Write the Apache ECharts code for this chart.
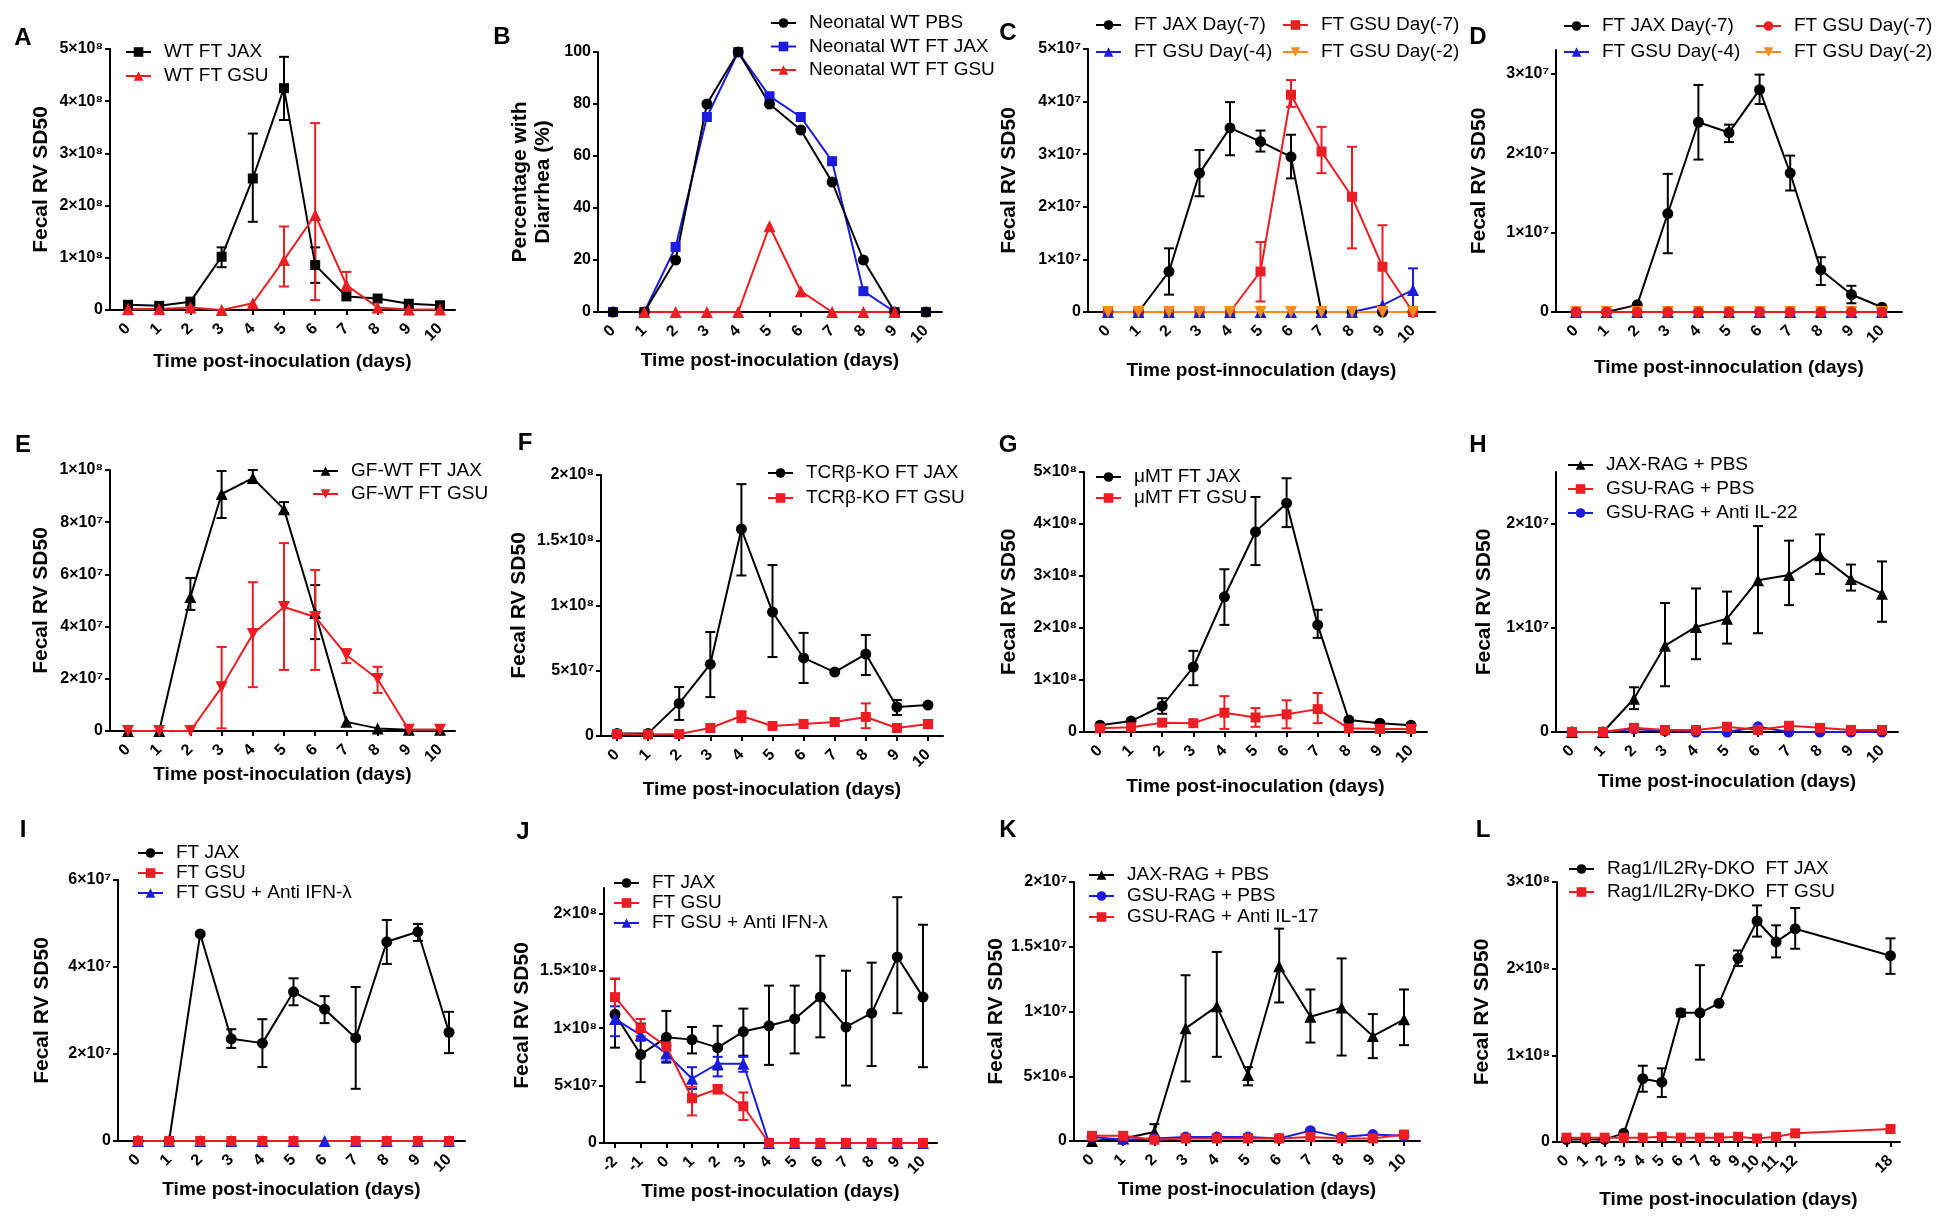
<!DOCTYPE html>
<html><head><meta charset="utf-8">
<script src="https://cdn.jsdelivr.net/npm/echarts@6/dist/echarts.min.js"></script>
<style>html,body{margin:0;padding:0;background:#fff}#c{width:1938px;height:1218px}</style>
</head><body><div id="c"></div><script>
// ---------- shared tick data ----------
const days = [0,1,2,3,4,5,6,7,8,9,10];
const daysJ = [-2,-1,0,1,2,3,4,5,6,7,8,9,10];
const daysL = [0,1,2,3,4,5,6,7,8,9,10,11,12,18];
const xLabelsL = ['0','1','2','3','4','5','6','7','8','9','10','11','12',' ','  ','   ','    ','18'];

// ---------- A ----------
const yTicksA = [0,1e8,2e8,3e8,4e8,5e8];
const yLabelsA = ['0','1×10⁸','2×10⁸','3×10⁸','4×10⁸','5×10⁸'];
const A_jax = [0.1e8,0.08e8,0.16e8,1.02e8,2.52e8,4.25e8,0.86e8,0.26e8,0.22e8,0.12e8,0.09e8];
const A_jaxErr = [null,null,null,[0.82e8,1.2e8],[1.69e8,3.38e8],[3.64e8,4.85e8],[0.52e8,1.2e8],null,null,null,null];
const A_gsu = [0.02e8,0.02e8,0.05e8,0,0.13e8,0.96e8,1.82e8,0.48e8,0.05e8,0.01e8,0.01e8];
const A_gsuErr = [null,null,null,null,null,[0.45e8,1.6e8],[0.19e8,3.58e8],[0.37e8,0.73e8],null,null,null];

// ---------- B ----------
const yTicksB = [0,20,40,60,80,100];
const yLabelsB = ['0','20','40','60','80','100'];
const B_pbs = [0,0,20,80,100,80,70,50,20,0,0];
const B_jax = [0,0,25,75,100,83,75,58,8,0,0];
const B_gsu = [null,0,0,0,0,33,8,0,0,0,null];

// ---------- C ----------
const yTicksC = [0,1e7,2e7,3e7,4e7,5e7];
const yLabelsC = ['0','1×10⁷','2×10⁷','3×10⁷','4×10⁷','5×10⁷'];
const C_jax7 = [0,0,0.77e7,2.64e7,3.5e7,3.24e7,2.95e7,0,0,0,0];
const C_jax7Err = [null,null,[0.33e7,1.21e7],[2.2e7,3.08e7],[2.98e7,3.99e7],[3.05e7,3.45e7],[2.54e7,3.37e7],null,null,null,null];
const C_gsu7 = [0,0,0,0,0,0.77e7,4.13e7,3.05e7,2.19e7,0.86e7,0];
const C_gsu7Err = [null,null,null,null,null,[0.2e7,1.33e7],[3.9e7,4.41e7],[2.64e7,3.52e7],[1.21e7,3.14e7],[0,1.65e7],null];
const C_gsu4 = [0,0,0,0,0,0,0,0,0,0.13e7,0.42e7];
const C_gsu4Err = [null,null,null,null,null,null,null,null,null,null,[0.05e7,0.83e7]];
const C_gsu2 = [0,0,0,0,0,0,0,0,0,0,0];

// ---------- D ----------
const yTicksD = [0,1e7,2e7,3e7];
const yLabelsD = ['0','1×10⁷','2×10⁷','3×10⁷'];
const D_jax7 = [0,0,0.09e7,1.24e7,2.39e7,2.26e7,2.8e7,1.75e7,0.53e7,0.22e7,0.06e7];
const D_jax7Err = [null,null,null,[0.74e7,1.74e7],[1.92e7,2.86e7],[2.14e7,2.36e7],[2.62e7,2.99e7],[1.53e7,1.97e7],[0.34e7,0.69e7],[0.11e7,0.33e7],null];
const D_gsu7 = [0,0,0,0,0,0,0,0,0,0,0];
const D_gsu4 = [0,0,0,0,0,0,0,0,0,0,0];
const D_gsu2 = [0,0,0,0,0,0,0,0,0,0,0];

// ---------- E ----------
const yTicksE = [0,2e7,4e7,6e7,8e7,1e8];
const yLabelsE = ['0','2×10⁷','4×10⁷','6×10⁷','8×10⁷','1×10⁸'];
const E_jax = [0,0,5.13e7,9.08e7,9.69e7,8.5e7,4.52e7,0.35e7,0.1e7,0.05e7,0.05e7];
const E_jaxErr = [null,null,[4.64e7,5.86e7],[8.16e7,9.96e7],[9.5e7,1.0e8],[8.35e7,8.77e7],[3.52e7,5.59e7],null,null,null,null];
const E_gsu = [0,0,0,1.68e7,3.72e7,4.75e7,4.37e7,2.91e7,1.99e7,0.05e7,0.05e7];
const E_gsuErr = [null,null,null,[0.1e7,3.22e7],[1.68e7,5.7e7],[2.34e7,7.2e7],[2.34e7,6.17e7],[2.6e7,3.14e7],[1.46e7,2.46e7],null,null];

// ---------- F ----------
const yTicksF = [0,5e7,1e8,1.5e8,2e8];
const yLabelsF = ['0','5×10⁷','1×10⁸','1.5×10⁸','2×10⁸'];
const F_jax = [0.2e7,0.2e7,2.5e7,5.5e7,15.86e7,9.5e7,5.98e7,4.9e7,6.28e7,2.22e7,2.37e7];
const F_jaxErr = [null,null,[1.23e7,3.75e7],[2.98e7,7.97e7],[12.3e7,19.3e7],[6.05e7,13.1e7],[4.06e7,7.9e7],null,[4.67e7,7.74e7],[1.61e7,2.76e7],null];
const F_gsu = [0.15e7,0.12e7,0.15e7,0.61e7,1.53e7,0.77e7,0.92e7,1.07e7,1.46e7,0.61e7,0.92e7];
const F_gsuErr = [null,null,null,null,[1.07e7,1.9e7],null,null,[0.8e7,1.35e7],[0.6e7,2.5e7],null,[0.6e7,1.2e7]];

// ---------- G ----------
const yTicksG = [0,1e8,2e8,3e8,4e8,5e8];
const yLabelsG = ['0','1×10⁸','2×10⁸','3×10⁸','4×10⁸','5×10⁸'];
const G_jax = [0.13e8,0.21e8,0.5e8,1.25e8,2.6e8,3.85e8,4.4e8,2.06e8,0.23e8,0.17e8,0.13e8];
const G_jaxErr = [null,null,[0.35e8,0.65e8],[0.9e8,1.56e8],[2.06e8,3.13e8],[3.21e8,4.52e8],[3.94e8,4.88e8],[1.81e8,2.35e8],null,null,null];
const G_gsu = [0.07e8,0.09e8,0.18e8,0.17e8,0.37e8,0.28e8,0.34e8,0.44e8,0.07e8,0.06e8,0.06e8];
const G_gsuErr = [null,null,null,null,[0.06e8,0.69e8],[0.1e8,0.46e8],[0.07e8,0.61e8],[0.17e8,0.75e8],null,null,null];

// ---------- H ----------
const yTicksH = [0,1e7,2e7];
const yLabelsH = ['0','1×10⁷','2×10⁷'];
const H_jax = [0,0,0.32e7,0.83e7,1.01e7,1.09e7,1.46e7,1.51e7,1.7e7,1.47e7,1.33e7];
const H_jaxErr = [null,null,[0.22e7,0.43e7],[0.44e7,1.24e7],[0.7e7,1.38e7],[0.85e7,1.35e7],[0.95e7,1.98e7],[1.22e7,1.84e7],[1.52e7,1.9e7],[1.36e7,1.61e7],[1.06e7,1.64e7]];
const H_gsuPbs = [0,0,0.04e7,0.02e7,0.02e7,0.05e7,0.02e7,0.06e7,0.04e7,0.02e7,0.02e7];
const H_gsuIL22 = [0,0,0.03e7,0.01e7,0,0,0.05e7,0,0,0,0];

// ---------- I ----------
const yTicksI = [0,2e7,4e7,6e7];
const yLabelsI = ['0','2×10⁷','4×10⁷','6×10⁷'];
const I_jax = [0,0,4.76e7,2.35e7,2.25e7,3.43e7,3.03e7,2.37e7,4.58e7,4.81e7,2.5e7];
const I_jaxErr = [null,null,null,[2.14e7,2.57e7],[1.7e7,2.8e7],[3.12e7,3.74e7],[2.71e7,3.33e7],[1.2e7,3.54e7],[4.07e7,5.08e7],[4.6e7,4.99e7],[2.02e7,2.97e7]];
const I_gsu = [0,0,0,0,0,0,null,0,0,0,0];
const I_ifn = [0,0,0,0,0,0,0,0,0,0,0];

// ---------- J ----------
const yTicksJ = [0,5e7,1e8,1.5e8,2e8];
const yLabelsJ = ['0','5×10⁷','1×10⁸','1.5×10⁸','2×10⁸'];
const J_jax = [1.12e8,0.77e8,0.92e8,0.9e8,0.83e8,0.97e8,1.02e8,1.08e8,1.27e8,1.01e8,1.13e8,1.62e8,1.27e8];
const J_jaxErr = [[0.83e8,1.43e8],[0.53e8,1.04e8],[0.7e8,1.15e8],[0.78e8,1.01e8],[0.64e8,1.02e8],[0.76e8,1.17e8],[0.68e8,1.37e8],[0.78e8,1.37e8],[0.92e8,1.63e8],[0.5e8,1.5e8],[0.67e8,1.57e8],[1.13e8,2.14e8],[0.66e8,1.9e8]];
const J_gsu = [1.27e8,1.0e8,0.84e8,0.39e8,0.47e8,0.32e8,0,0,0,0,0,0,0];
const J_gsuErr = [[1.1e8,1.43e8],[0.93e8,1.08e8],[0.75e8,0.92e8],[0.24e8,0.49e8],[0.43e8,0.5e8],[0.2e8,0.44e8],null,null,null,null,null,null,null];
const J_ifn = [1.08e8,0.94e8,0.78e8,0.56e8,0.69e8,0.69e8,0,0,0,0,0,0,0];
const J_ifnErr = [[0.93e8,1.19e8],[0.89e8,0.99e8],[0.71e8,0.85e8],[0.47e8,0.66e8],[0.58e8,0.75e8],[0.62e8,0.75e8],null,null,null,null,null,null,null];

// ---------- K ----------
const yTicksK = [0,5e6,1e7,1.5e7,2e7];
const yLabelsK = ['0','5×10⁶','1×10⁷','1.5×10⁷','2×10⁷'];
const K_jax = [0,0.02e7,0.07e7,0.87e7,1.04e7,0.51e7,1.35e7,0.96e7,1.03e7,0.81e7,0.94e7];
const K_jaxErr = [null,null,[0.02e7,0.13e7],[0.46e7,1.28e7],[0.65e7,1.46e7],[0.43e7,0.57e7],[1.07e7,1.64e7],[0.76e7,1.17e7],[0.66e7,1.41e7],[0.64e7,0.98e7],[0.74e7,1.17e7]];
const K_gsuPbs = [0.03e7,0.01e7,0.02e7,0.03e7,0.03e7,0.03e7,0.02e7,0.08e7,0.03e7,0.05e7,0.04e7];
const K_il17 = [0.04e7,0.04e7,0.01e7,0.02e7,0.02e7,0.02e7,0.02e7,0.03e7,0.02e7,0.02e7,0.05e7];

// ---------- L ----------
const yTicksL = [0,1e8,2e8,3e8];
const yLabelsL = ['0','1×10⁸','2×10⁸','3×10⁸'];
const L_jax = [0.03e8,0.03e8,0.03e8,0.1e8,0.73e8,0.69e8,1.49e8,1.49e8,1.6e8,2.12e8,2.55e8,2.31e8,2.46e8,2.15e8];
const L_jaxErr = [null,null,null,null,[0.58e8,0.88e8],[0.52e8,0.85e8],[1.45e8,1.53e8],[0.95e8,2.04e8],null,[2.03e8,2.21e8],[2.37e8,2.73e8],[2.13e8,2.5e8],[2.23e8,2.7e8],[1.94e8,2.35e8]];
const L_gsu = [0.05e8,0.05e8,0.05e8,0.05e8,0.05e8,0.06e8,0.05e8,0.05e8,0.05e8,0.06e8,0.04e8,0.06e8,0.1e8,0.15e8];

// ---------- styling ----------
const FONT = '"Liberation Sans", Arial, Helvetica, sans-serif';
const BLACK = '#000000', RED = '#ee1d24', BLUE = '#1c1ce0', ORANGE = '#ff8a1f';
const XT1 = 'Time post-inoculation (days)';
const XT2 = 'Time post-innoculation (days)';
const YT = 'Fecal RV SD50';

const panels = [
 {id:'A', letter:[23,38], L:110,R:455,T:49,B:310, x0p:128,x0v:0,x1p:440,x1v:10, xTicks:days, ymax:5e8, yTicks:yTicksA, yLabels:yLabelsA, xName:XT1, xGap:42, yName:YT, yGap:57,
  series:[{n:'WT FT JAX',x:days,y:A_jax,e:A_jaxErr,c:BLACK,s:'rect'},{n:'WT FT GSU',x:days,y:A_gsu,e:A_gsuErr,c:RED,s:'triangle'}],
  legends:[{left:125,top:42,gap:4,names:['WT FT JAX','WT FT GSU']}]},
 {id:'B', letter:[502,37], L:598,R:942,T:52,B:312, x0p:613,x0v:0,x1p:926,x1v:10, xTicks:days, ymax:100, yTicks:yTicksB, yLabels:yLabelsB, xName:XT1, xGap:39, yName:'Percentage with\nDiarrhea (%)', yGap:43, yLH:23,
  series:[{n:'Neonatal WT FT JAX',x:days,y:B_jax,c:BLUE,s:'rect'},{n:'Neonatal WT PBS',x:days,y:B_pbs,c:BLACK,s:'circle'},{n:'Neonatal WT FT GSU',x:days,y:B_gsu,c:RED,s:'triangle'}],
  legends:[{left:770,top:13,gap:3.5,names:['Neonatal WT PBS','Neonatal WT FT JAX','Neonatal WT FT GSU']}]},
 {id:'C', letter:[1008,33], L:1088,R:1435,T:49,B:312, x0p:1108,x0v:0,x1p:1413,x1v:10, xTicks:days, ymax:5e7, yTicks:yTicksC, yLabels:yLabelsC, xName:XT2, xGap:49, yName:YT, yGap:67,
  series:[{n:'FT JAX Day(-7)',x:days,y:C_jax7,e:C_jax7Err,c:BLACK,s:'circle'},{n:'FT GSU Day(-7)',x:days,y:C_gsu7,e:C_gsu7Err,c:RED,s:'rect'},{n:'FT GSU Day(-4)',x:days,y:C_gsu4,e:C_gsu4Err,c:BLUE,s:'triangle'},{n:'FT GSU Day(-2)',x:days,y:C_gsu2,c:ORANGE,s:'triangle',r:180}],
  legends:[{left:1095,top:15,gap:7,names:['FT JAX Day(-7)','FT GSU Day(-4)']},{left:1282,top:15,gap:7,names:['FT GSU Day(-7)','FT GSU Day(-2)']}]},
 {id:'D', letter:[1478,37], L:1556,R:1902,T:50,B:312, x0p:1576,x0v:0,x1p:1882,x1v:10, xTicks:days, ymax:3.3e7, yTicks:yTicksD, yLabels:yLabelsD, xName:XT2, xGap:46, yName:YT, yGap:65,
  series:[{n:'FT JAX Day(-7)',x:days,y:D_jax7,e:D_jax7Err,c:BLACK,s:'circle'},{n:'FT GSU Day(-4)',x:days,y:D_gsu4,c:BLUE,s:'triangle'},{n:'FT GSU Day(-2)',x:days,y:D_gsu2,c:ORANGE,s:'triangle',r:180},{n:'FT GSU Day(-7)',x:days,y:D_gsu7,c:RED,s:'circle'}],
  legends:[{left:1563,top:16,gap:6,names:['FT JAX Day(-7)','FT GSU Day(-4)']},{left:1755,top:16,gap:6,names:['FT GSU Day(-7)','FT GSU Day(-2)']}]},
 {id:'E', letter:[23,445], L:110,R:455,T:470,B:731, x0p:128,x0v:0,x1p:440,x1v:10, xTicks:days, ymax:1e8, yTicks:yTicksE, yLabels:yLabelsE, xName:XT1, xGap:34, yName:YT, yGap:57,
  series:[{n:'GF-WT FT JAX',x:days,y:E_jax,e:E_jaxErr,c:BLACK,s:'triangle'},{n:'GF-WT FT GSU',x:days,y:E_gsu,e:E_gsuErr,c:RED,s:'triangle',r:180}],
  legends:[{left:312,top:461,gap:3,names:['GF-WT FT JAX','GF-WT FT GSU']}]},
 {id:'F', letter:[525,443], L:601,R:943,T:475,B:736, x0p:617,x0v:0,x1p:928,x1v:10, xTicks:days, ymax:2e8, yTicks:yTicksF, yLabels:yLabelsF, xName:XT1, xGap:44, yName:YT, yGap:70,
  series:[{n:'TCRβ-KO FT JAX',x:days,y:F_jax,e:F_jaxErr,c:BLACK,s:'circle'},{n:'TCRβ-KO FT GSU',x:days,y:F_gsu,e:F_gsuErr,c:RED,s:'rect'}],
  legends:[{left:767,top:463,gap:5,names:['TCRβ-KO FT JAX','TCRβ-KO FT GSU']}]},
 {id:'G', letter:[1008,445], L:1084,R:1427,T:472,B:732, x0p:1100,x0v:0,x1p:1411,x1v:10, xTicks:days, ymax:5e8, yTicks:yTicksG, yLabels:yLabelsG, xName:XT1, xGap:45, yName:YT, yGap:63,
  series:[{n:'μMT FT JAX',x:days,y:G_jax,e:G_jaxErr,c:BLACK,s:'circle'},{n:'μMT FT GSU',x:days,y:G_gsu,e:G_gsuErr,c:RED,s:'rect'}],
  legends:[{left:1095,top:467,gap:1,names:['μMT FT JAX','μMT FT GSU']}]},
 {id:'H', letter:[1478,445], L:1556,R:1898,T:472,B:732, x0p:1572,x0v:0,x1p:1882,x1v:10, xTicks:days, ymax:2.5e7, yTicks:yTicksH, yLabels:yLabelsH, xName:XT1, xGap:40, yName:YT, yGap:60,
  series:[{n:'JAX-RAG + PBS',x:days,y:H_jax,e:H_jaxErr,c:BLACK,s:'triangle'},{n:'GSU-RAG + Anti IL-22',x:days,y:H_gsuIL22,c:BLUE,s:'circle'},{n:'GSU-RAG + PBS',x:days,y:H_gsuPbs,c:RED,s:'rect'}],
  legends:[{left:1567,top:455,gap:4,names:['JAX-RAG + PBS','GSU-RAG + PBS','GSU-RAG + Anti IL-22']}]},
 {id:'I', letter:[23,830], L:118,R:465,T:880,B:1141, x0p:138,x0v:0,x1p:449,x1v:10, xTicks:days, ymax:6e7, yTicks:yTicksI, yLabels:yLabelsI, xName:XT1, xGap:39, yName:YT, yGap:64,
  series:[{n:'FT JAX',x:days,y:I_jax,e:I_jaxErr,c:BLACK,s:'circle'},{n:'FT GSU + Anti IFN-λ',x:days,y:I_ifn,c:BLUE,s:'triangle'},{n:'FT GSU',x:days,y:I_gsu,c:RED,s:'rect'}],
  legends:[{left:137,top:843,gap:0,names:['FT JAX','FT GSU','FT GSU + Anti IFN-λ']}]},
 {id:'J', letter:[523,832], L:604,R:937,T:888,B:1143, x0p:615,x0v:-2,x1p:923,x1v:10, xTicks:daysJ, ymax:2.22e8, yTicks:yTicksJ, yLabels:yLabelsJ, xName:XT1, xGap:39, yName:YT, yGap:70,
  series:[{n:'FT JAX',x:daysJ,y:J_jax,e:J_jaxErr,c:BLACK,s:'circle'},{n:'FT GSU + Anti IFN-λ',x:daysJ,y:J_ifn,e:J_ifnErr,c:BLUE,s:'triangle'},{n:'FT GSU',x:daysJ,y:J_gsu,e:J_gsuErr,c:RED,s:'rect'}],
  legends:[{left:613,top:873,gap:0,names:['FT JAX','FT GSU','FT GSU + Anti IFN-λ']}]},
 {id:'K', letter:[1008,830], L:1074,R:1420,T:882,B:1141, x0p:1092,x0v:0,x1p:1404,x1v:10, xTicks:days, ymax:2e7, yTicks:yTicksK, yLabels:yLabelsK, xName:XT1, xGap:39, yName:YT, yGap:66,
  series:[{n:'JAX-RAG + PBS',x:days,y:K_jax,e:K_jaxErr,c:BLACK,s:'triangle'},{n:'GSU-RAG + PBS',x:days,y:K_gsuPbs,c:BLUE,s:'circle'},{n:'GSU-RAG + Anti IL-17',x:days,y:K_il17,c:RED,s:'rect'}],
  legends:[{left:1088,top:865,gap:1,names:['JAX-RAG + PBS','GSU-RAG + PBS','GSU-RAG + Anti IL-17']}]},
 {id:'L', letter:[1483,830], L:1557,R:1900,T:882,B:1142, cats:xLabelsL, ymax:3e8, yTicks:yTicksL, yLabels:yLabelsL, xName:XT1, xGap:48, yName:YT, yGap:63,
  series:[{n:'Rag1/IL2Rγ-DKO  FT JAX',x:daysL,y:L_jax,e:L_jaxErr,c:BLACK,s:'circle'},{n:'Rag1/IL2Rγ-DKO  FT GSU',x:daysL,y:L_gsu,c:RED,s:'rect'}],
  legends:[{left:1568,top:859,gap:3,names:['Rag1/IL2Rγ-DKO  FT JAX','Rag1/IL2Rγ-DKO  FT GSU']}]}
];

const grids=[], xAxes=[], yAxes=[], series=[], legends=[], graphics=[];
const tickLabelStyle = {fontSize:16, fontWeight:'bold', color:'#000', fontFamily:FONT};
const axisLineStyle = {show:true, onZero:false, lineStyle:{color:'#000', width:2}};

function errRender(color){
  return function(params, api){
    const x = api.value(0), lo = api.value(1), hi = api.value(2);
    const a = api.coord([x, lo]), b = api.coord([x, hi]);
    const w = 5, st = {stroke:color, lineWidth:2};
    return {type:'group', children:[
      {type:'line', shape:{x1:a[0],y1:a[1],x2:b[0],y2:b[1]}, style:st},
      {type:'line', shape:{x1:a[0]-w,y1:a[1],x2:a[0]+w,y2:a[1]}, style:st},
      {type:'line', shape:{x1:b[0]-w,y1:b[1],x2:b[0]+w,y2:b[1]}, style:st}
    ]};
  };
}

panels.forEach((p, gi) => {
  grids.push({left:p.L, top:p.T, width:p.R-p.L, height:p.B-p.T, containLabel:false, outerBoundsMode:'none'});
  const xName = {name:p.xName, nameLocation:'middle', nameGap:p.xGap, nameMoveOverlap:false,
    nameTextStyle:{fontSize:19, fontWeight:'bold', color:'#000', fontFamily:FONT}};
  let xa;
  if (p.cats) {
    const show = (i, v) => String(v).trim() !== '';
    xa = Object.assign({type:'category', gridIndex:gi, data:p.cats, boundaryGap:true,
      axisLine:axisLineStyle,
      axisTick:{show:true, alignWithLabel:true, interval:show, length:5, lineStyle:{color:'#000', width:2}},
      axisLabel:Object.assign({interval:show, rotate:45, margin:16}, tickLabelStyle),
      splitLine:{show:false}}, xName);
  } else {
    const k = (p.x1v - p.x0v) / (p.x1p - p.x0p);
    xa = Object.assign({type:'value', gridIndex:gi,
      min: p.x0v - (p.x0p - p.L) * k, max: p.x1v + (p.R - p.x1p) * k,
      axisLine:axisLineStyle,
      axisTick:{show:true, customValues:p.xTicks, length:5, lineStyle:{color:'#000', width:2}},
      axisLabel:Object.assign({customValues:p.xTicks, rotate:45, margin:16, formatter:v => String(Math.round(v))}, tickLabelStyle),
      splitLine:{show:false}}, xName);
  }
  xAxes.push(xa);
  const yt = p.yTicks, yl = p.yLabels;
  yAxes.push({type:'value', gridIndex:gi, min:0, max:p.ymax,
    axisLine:axisLineStyle,
    axisTick:{show:true, customValues:yt, length:5, lineStyle:{color:'#000', width:2}},
    axisLabel:Object.assign({customValues:yt, margin:7, formatter:v => {
      for (let i=0;i<yt.length;i++) if (Math.abs(v-yt[i]) <= p.ymax*1e-9) return yl[i];
      return '';
    }}, tickLabelStyle),
    splitLine:{show:false},
    name:p.yName, nameLocation:'middle', nameGap:p.yGap, nameMoveOverlap:false,
    nameTextStyle:{fontSize:21, fontWeight:'bold', color:'#000', fontFamily:FONT, lineHeight:p.yLH || 24, align:'center'}
  });
  const xc = d => p.cats ? p.cats.indexOf(String(d)) : d;
  p.series.forEach(s => {
    const name = s.n + '@' + p.id;
    if (s.e) {
      const ed = [];
      s.e.forEach((e, i) => { if (e) ed.push([xc(s.x[i]), e[0], e[1]]); });
      series.push({type:'custom', name:name+'#err', xAxisIndex:gi, yAxisIndex:gi, z:2, silent:true,
        renderItem:errRender(s.c), data:ed, encode:{x:0, y:[1,2]}});
    }
    series.push({type:'line', name:name, xAxisIndex:gi, yAxisIndex:gi, z:3, clip:false, silent:true,
      data:s.x.map((d, i) => [xc(d), s.y[i]]), connectNulls:true,
      symbol:s.s, symbolSize:s.s==='rect'?10:(s.s==='triangle'?12:11), symbolRotate:s.r||0, showSymbol:true,
      itemStyle:{color:s.c}, lineStyle:{color:s.c, width:2}});
  });
  p.legends.forEach(lg => {
    legends.push({left:lg.left, top:lg.top, orient:'vertical', padding:0, itemGap:lg.gap,
      itemWidth:25, itemHeight:12, selectedMode:false,
      data:lg.names.map(n => n + '@' + p.id),
      formatter:n => n.split('@')[0],
      textStyle:{fontSize:19, color:'#000', fontFamily:FONT, lineHeight:20, padding:[0,0,0,8]}});
  });
  graphics.push({type:'text', x:p.letter[0], y:p.letter[1],
    style:{text:p.id, font:'bold 24px ' + FONT, fill:'#000', align:'center', verticalAlign:'middle', textAlign:'center', textVerticalAlign:'middle'}});
});

const chart = echarts.init(document.getElementById('c'), null, {renderer:'canvas'});
chart.setOption({
  animation:false, backgroundColor:'#fff',
  textStyle:{fontFamily:FONT},
  grid:grids, xAxis:xAxes, yAxis:yAxes, legend:legends, series:series, graphic:graphics
});
</script></body></html>
